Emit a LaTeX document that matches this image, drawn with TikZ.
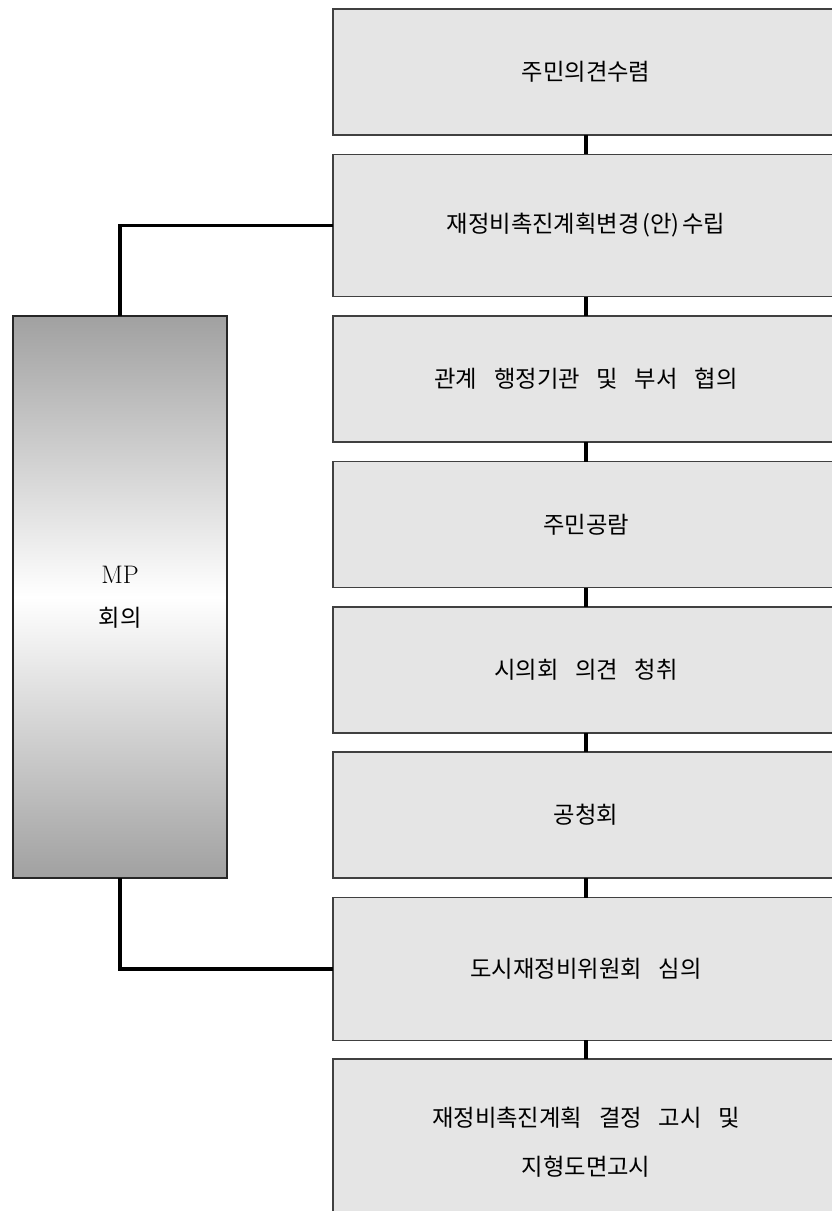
\documentclass[tikz,border=0pt]{standalone}
\usepackage{fontspec}
\newfontfamily\kr{Noto Sans CJK KR}[WordSpace=3.2]
\usepackage{tikz}

\tikzset{
  stepbox/.style={draw=black!75,line width=0.8pt,fill=black!10,inner sep=0pt,outer sep=0pt,
    minimum width=379.5pt,minimum height=94.5pt,align=center,font=\kr\fontsize{17.5}{37}\selectfont},
  tallbox/.style={stepbox,minimum height=107pt},
  mpbox/.style={draw=black!85,line width=0.8pt,inner sep=0pt,outer sep=0pt,
    minimum width=160.5pt,minimum height=421.5pt,align=center,
    top color=black!37,bottom color=black!37,middle color=white,
    font=\fontsize{19}{32}\selectfont},
  link/.style={line width=2.3pt,black}
}
\newcommand\pkern{\hspace{2pt}}

\begin{document}
\begin{tikzpicture}[x=0.75pt,y=-0.75pt]
\useasboundingbox (0,0) rectangle (832,1211);
\node[stepbox] (b1) at (586,72) {주민의견수렴};
\node[tallbox] (b2) at (586,225.5) {재정비촉진계획변경\pkern(안)\pkern 수립};
\node[stepbox] (b3) at (586,379) {관계 행정기관 및 부서 협의};
\node[stepbox] (b4) at (586,524.5) {주민공람};
\node[stepbox] (b5) at (586,670) {시의회 의견 청취};
\node[stepbox] (b6) at (586,815) {공청회};
\node[tallbox] (b7) at (586,969) {도시재정비위원회 심의};
\node[stepbox,minimum height=124.5pt] (b8) at (586,1142) {재정비촉진계획 결정 고시 및\\지형도면고시};
\node[mpbox] (mp) at (120,597) {MP\\{\kr\fontsize{17.5}{32}\selectfont 회의}};
% connectors
\draw[link] (b1) -- (b2);
\draw[link] (b2) -- (b3);
\draw[link] (b3) -- (b4);
\draw[link] (b4) -- (b5);
\draw[link] (b5) -- (b6);
\draw[link] (b6) -- (b7);
\draw[link] (b7) -- (b8);
\draw[link] (mp.north) |- (b2.west);
\draw[link] (mp.south) |- (b7.west);
\end{tikzpicture}
\end{document}
